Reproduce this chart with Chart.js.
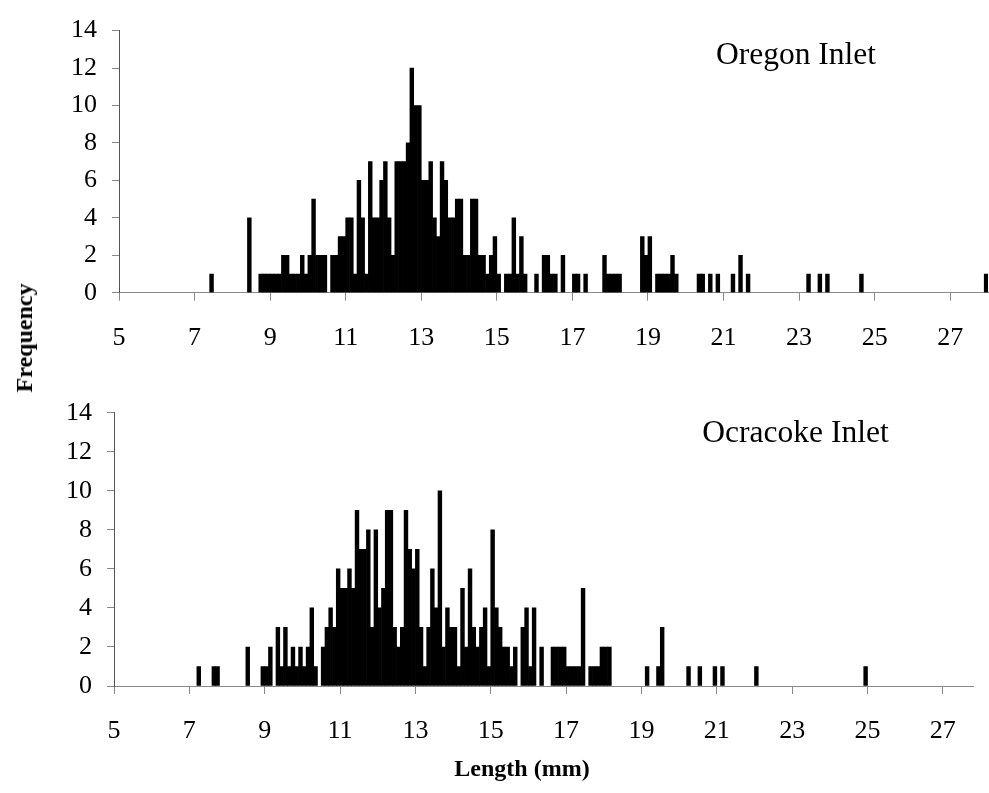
<!DOCTYPE html>
<html><head><meta charset="utf-8">
<script src="https://cdn.jsdelivr.net/npm/chart.js@4.4.1/dist/chart.umd.min.js"></script>
<style>
html,body{margin:0;padding:0;background:#fff;}
#wrap{position:relative;width:989px;height:793px;overflow:hidden;background:#fff;}
canvas{position:absolute;left:0;}
#c1{top:0;}
#c2{top:380px;}
.lab{position:absolute;font-family:'Liberation Serif','Times New Roman',serif;font-weight:bold;font-size:24px;line-height:24px;color:#000;white-space:nowrap;}
</style></head><body>
<div id="wrap">
<canvas id="c1" width="989" height="380"></canvas>
<canvas id="c2" width="989" height="413"></canvas>
<div class="lab" id="ylab" style="left:24px;top:338px;transform:translate(-50%,-50%) rotate(-90deg);">Frequency</div>
<div class="lab" id="xlab" style="left:522px;top:768px;transform:translate(-50%,-50%);">Length (mm)</div>
</div>
<script>
// ---- data (bin start in mm, 0.1 mm bins) ----
const binWidth = 0.1;
const oregonLengths = [7.4,8.4,8.7,8.8,8.9,9.0,9.1,9.2,9.3,9.4,9.5,9.6,9.7,9.8,9.9,10.0,10.1,10.2,10.3,10.4,
  10.6,10.7,10.8,10.9,11.0,11.1,11.2,11.3,11.4,11.5,11.6,11.7,11.8,11.9,12.0,12.1,12.2,12.3,12.4,12.5,
  12.6,12.7,12.8,12.9,13.0,13.1,13.2,13.3,13.4,13.5,13.6,13.7,13.8,13.9,14.0,14.1,14.2,14.3,14.4,14.5,
  14.6,14.7,14.8,14.9,15.0,15.2,15.3,15.4,15.5,15.6,15.7,16.0,16.2,16.3,16.4,16.5,16.7,17.0,17.1,17.3,
  17.8,17.9,18.0,18.1,18.2,18.8,18.9,19.0,19.2,19.3,19.4,19.5,19.6,19.7,20.3,20.4,20.6,20.8,21.2,21.4,
  21.6,23.2,23.5,23.7,24.6,27.9];
const oregonCounts = [1,4,1,1,1,1,1,1,2,2,1,1,1,2,1,2,5,2,2,2,
  2,2,3,3,4,4,1,6,4,1,7,4,4,6,7,4,2,7,7,7,
  8,12,10,10,6,6,7,4,3,7,6,4,4,5,5,2,2,5,5,2,
  2,1,2,3,1,1,1,4,1,3,1,1,2,2,1,1,2,1,1,1,
  2,1,1,1,1,3,2,3,1,1,1,1,2,1,1,1,1,1,1,2,
  1,1,1,1,1,1];
const ocracokeLengths = [7.2,7.6,7.7,8.5,8.9,9.0,9.1,9.3,9.4,9.5,9.6,9.7,9.8,9.9,10.0,10.1,10.2,10.3,10.5,10.6,
  10.7,10.8,10.9,11.0,11.1,11.2,11.3,11.4,11.5,11.6,11.7,11.8,11.9,12.0,12.1,12.2,12.3,12.4,12.5,12.6,
  12.7,12.8,12.9,13.0,13.1,13.2,13.3,13.4,13.5,13.6,13.7,13.8,13.9,14.0,14.1,14.2,14.3,14.4,14.5,14.6,
  14.7,14.8,14.9,15.0,15.1,15.2,15.3,15.4,15.5,15.6,15.8,15.9,16.0,16.1,16.3,16.6,16.7,16.8,16.9,17.0,
  17.1,17.2,17.3,17.4,17.6,17.7,17.8,17.9,18.0,18.1,19.1,19.4,19.5,20.2,20.5,20.9,21.1,22.0,24.9];
const ocracokeCounts = [1,1,1,2,1,1,2,3,1,3,1,2,1,2,1,2,4,1,2,3,
  4,3,6,5,5,6,5,9,7,7,8,3,8,4,5,9,9,3,2,3,
  9,7,6,7,3,1,3,6,4,10,2,4,3,3,1,5,2,6,3,2,
  3,4,1,8,4,3,2,2,1,2,3,4,1,4,2,2,2,2,2,1,
  1,1,1,5,1,1,1,2,2,2,1,1,3,1,1,1,1,1,1];
const xTickLabels = [5,7,9,11,13,15,17,19,21,23,25,27];
const yTickLabels = [0,2,4,6,8,10,12,14];

const FONT = "'Liberation Serif','Times New Roman',serif";

const panelLabel = {
  id: 'panelLabel',
  afterDraw(chart, args, opts) {
    const ctx = chart.ctx;
    ctx.save();
    ctx.font = opts.size + 'px ' + FONT;
    ctx.fillStyle = '#000';
    ctx.textAlign = 'center';
    ctx.textBaseline = 'middle';
    ctx.fillText(opts.text, opts.x, opts.y);
    ctx.restore();
  }
};

function makeChart(id, lengths, counts, cfg) {
  const pts = lengths.map((v, i) => ({x: v + binWidth / 2, y: counts[i]}));
  return new Chart(document.getElementById(id), {
    type: 'bar',
    data: {datasets: [{data: pts, backgroundColor: '#000', borderWidth: 0,
      barPercentage: 1, categoryPercentage: 1}]},
    plugins: [panelLabel],
    options: {
      responsive: false, animation: false,
      layout: {padding: {top: cfg.padTop, right: cfg.padRight, left: 0, bottom: 0}},
      plugins: {legend: {display: false}, tooltip: {enabled: false},
        panelLabel: {text: cfg.label, x: cfg.labelX, y: cfg.labelY, size: 31.5}},
      scales: {
        x: {type: 'linear', min: 5, max: cfg.xMax, offset: false,
          afterBuildTicks: s => { s.ticks = xTickLabels.map(v => ({value: v})); },
          afterFit: s => { s.height = cfg.xHeight; },
          grid: {offset: false, drawOnChartArea: false, drawTicks: true, tickLength: 8, color: '#888'},
          border: {display: true, color: '#8a8a8a', width: 1, dash: [8, 3]},
          ticks: {autoSkip: false, maxRotation: 0, color: '#000', padding: 22,
            font: {family: FONT, size: 26}}
        },
        y: {min: 0, max: 14,
          afterBuildTicks: s => { s.ticks = yTickLabels.map(v => ({value: v})); },
          afterFit: s => { s.width = cfg.yWidth; },
          grid: {drawOnChartArea: false, drawTicks: true, tickLength: 7, color: '#888'},
          border: {display: true, color: '#555', width: 1},
          ticks: {color: '#000', padding: 15, font: {family: FONT, size: 26}}
        }
      }
    }
  });
}

makeChart('c1', oregonLengths, oregonCounts,
  {padTop: 27, padRight: 1, xMax: 28, xHeight: 87.3, yWidth: 119,
   label: 'Oregon Inlet', labelX: 796, labelY: 56});
makeChart('c2', ocracokeLengths, ocracokeCounts,
  {padTop: 32.7, padRight: 16, xMax: 27.8, xHeight: 107, yWidth: 114,
   label: 'Ocracoke Inlet', labelX: 795.5, labelY: 54});
</script>
</body></html>
